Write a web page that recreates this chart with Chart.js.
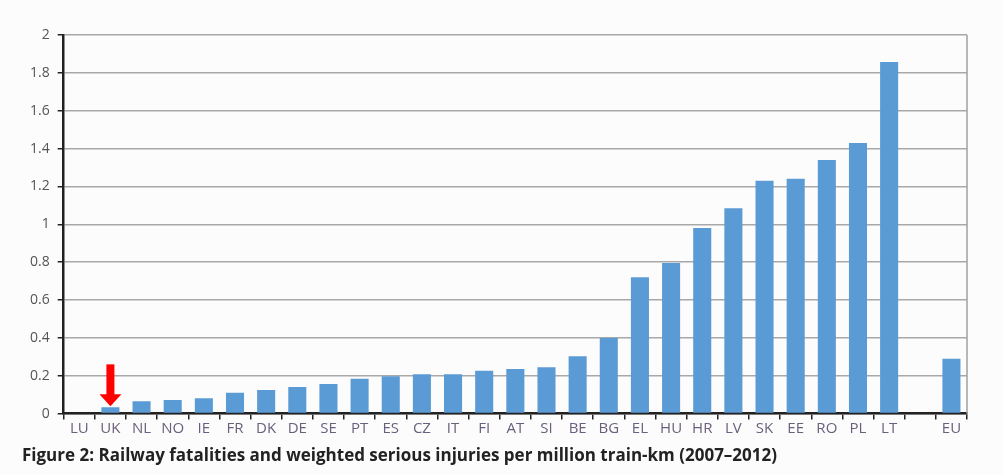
<!DOCTYPE html>
<html>
<head>
<meta charset="utf-8">
<script src="https://cdn.jsdelivr.net/npm/chart.js@4"></script>
<style>
  body { margin: 0; background: #fcfcfc; }
  #wrap { width: 1003px; height: 475px; }
</style>
</head>
<body>
<div id="wrap"><canvas id="railChart" width="1003" height="475"></canvas></div>
<script>
// country codes, one blank slot before the EU average
const countries = ['LU', 'UK', 'NL', 'NO', 'IE', 'FR', 'DK', 'DE', 'SE', 'PT', 'ES', 'CZ', 'IT', 'FI',
  'AT', 'SI', 'BE', 'BG', 'EL', 'HU', 'HR', 'LV', 'SK', 'EE', 'RO', 'PL', 'LT', '', 'EU'];
// fatalities + weighted serious injuries per million train-km
const rates = [0, 0.033, 0.065, 0.072, 0.081, 0.11, 0.125, 0.14, 0.157, 0.184, 0.197, 0.208, 0.208, 0.227,
  0.236, 0.245, 0.303, 0.40, 0.72, 0.795, 0.98, 1.085, 1.23, 1.24, 1.34, 1.43, 1.857, null, 0.29];
const yTicks = [0, 0.2, 0.4, 0.6, 0.8, 1, 1.2, 1.4, 1.6, 1.8, 2];
const markedCountry = 'UK';

// gray right border + red arrow pointing at the UK bar
const extras = {
  id: 'extras',
  afterDraw(chart) {
    const ctx = chart.ctx;
    const area = chart.chartArea;
    ctx.save();
    ctx.strokeStyle = '#a0a0a0';
    ctx.lineWidth = 1.5;
    ctx.beginPath();
    ctx.moveTo(area.right, area.top);
    ctx.lineTo(area.right, area.bottom);
    ctx.stroke();

    const x = chart.scales.x.getPixelForValue(countries.indexOf(markedCountry));
    const y = chart.scales.y;
    const tip = y.getPixelForValue(rates[countries.indexOf(markedCountry)]) - 1;
    const top = y.getPixelForValue(0.26);
    ctx.fillStyle = '#ff0000';
    ctx.fillRect(x - 4, top, 8, tip - top - 11);
    ctx.beginPath();
    ctx.moveTo(x - 11, tip - 12);
    ctx.lineTo(x + 11, tip - 12);
    ctx.lineTo(x, tip);
    ctx.closePath();
    ctx.fill();
    ctx.restore();
  }
};

new Chart(document.getElementById('railChart'), {
  type: 'bar',
  data: {
    labels: countries,
    datasets: [{
      data: rates,
      backgroundColor: '#5b9bd5',
      categoryPercentage: 1,
      barPercentage: 0.58
    }]
  },
  options: {
    responsive: false,
    animation: false,
    devicePixelRatio: 1,
    layout: { padding: { left: 22, right: 36, top: 35, bottom: 9 } },
    plugins: {
      legend: { display: false },
      tooltip: { enabled: false },
      title: {
        display: true,
        position: 'bottom',
        align: 'start',
        text: 'Figure 2: Railway fatalities and weighted serious injuries per million train-km (2007\u20132012)',
        color: '#222',
        font: { family: 'Open Sans', size: 17, weight: 'bold' },
        padding: { top: 8, bottom: 0 }
      }
    },
    scales: {
      x: {
        grid: { offset: true, drawOnChartArea: false, tickLength: 6, color: '#222', lineWidth: 1.5 },
        border: { color: '#222', width: 2.5 },
        ticks: { color: '#6a5f7c', font: { family: 'Liberation Sans Narrow, Open Sans', size: 15 }, padding: 0, maxRotation: 0, autoSkip: false }
      },
      y: {
        min: 0,
        max: 2,
        afterBuildTicks(axis) { axis.ticks = yTicks.map(v => ({ value: v })); },
        grid: { color: '#a8a8a8', lineWidth: 1.5, tickLength: 6, tickColor: '#222' },
        border: { color: '#222', width: 2.5 },
        ticks: {
          color: '#555',
          font: { family: 'Open Sans', size: 14 },
          padding: 8,
          callback: v => String(Math.round(v * 10) / 10)
        }
      }
    }
  },
  plugins: [extras]
});
</script>
</body>
</html>
